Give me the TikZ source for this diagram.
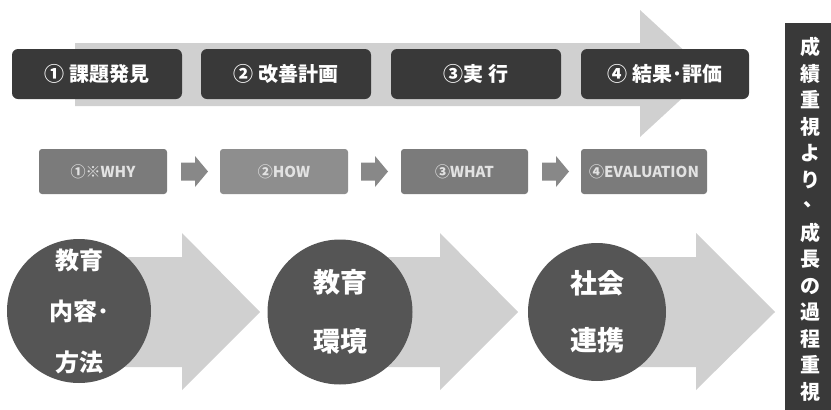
\documentclass[tikz,border=0pt]{standalone}
\usepackage{fontspec}
\setmainfont{Noto Sans CJK JP}
\definecolor{arrowgray}{HTML}{D0D0D0}
\definecolor{boxdark}{HTML}{393939}
\definecolor{midgray}{HTML}{7B7B7B}
\definecolor{midgraylt}{HTML}{8E8E8E}
\definecolor{circgray}{HTML}{555555}
\definecolor{smallarrow}{HTML}{888888}
\definecolor{lighttext}{HTML}{E2E2E2}
\begin{document}
\begin{tikzpicture}[x=1pt,y=-1pt,
  phasebox/.style={fill=boxdark, rounded corners=6pt, minimum width=170pt, minimum height=50pt, text=white, font=\bfseries\fontsize{20}{24}\selectfont, inner sep=0pt},
  qbox/.style={rounded corners=3pt, minimum height=45pt, text=lighttext, font=\bfseries\fontsize{15}{18}\selectfont, inner sep=0pt},
  circ/.style={circle, fill=circgray, text=white, inner sep=0pt, align=center},
  bigarrow/.style={fill=arrowgray},
  sarrow/.style={fill=smallarrow}
]
\useasboundingbox (0,0) rectangle (831,410);
\fill[white] (0,0) rectangle (831,410);

% top big arrow
\fill[bigarrow] (75,43) -- (640,43) -- (640,10) -- (709,73.5) -- (640,137) -- (640,106) -- (75,106) -- cycle;

% top phase boxes
\node[phasebox] (p1) at (97,74) {① 課題発見};
\node[phasebox] (p2) at (286,74) {② 改善計画};
\node[phasebox] (p3) at (476,74) {③実 行};
\node[phasebox, minimum width=168pt] (p4) at (665,74) {④ 結果･評価};

% second row
\node[qbox, fill=midgray, minimum width=128pt] (q1) at (103,171.5) {①※WHY};
\node[qbox, fill=midgraylt, minimum width=128pt] (q2) at (284,171.5) {②HOW};
\node[qbox, fill=midgray, minimum width=127pt] (q3) at (464.5,171.5) {③WHAT};
\node[qbox, fill=midgray, minimum width=126pt] (q4) at (644,171.5) {④EVALUATION};

\foreach \xa in {181,361,542}{
  \fill[sarrow] (\xa,162.5) -- (\xa+14,162.5) -- (\xa+14,156) -- (\xa+27,171.5) -- (\xa+14,187) -- (\xa+14,180.5) -- (\xa,180.5) -- cycle;
}

% bottom big arrows
\fill[bigarrow] (79,257) -- (182,257) -- (182,233) -- (260,312) -- (182,390) -- (182,367) -- (79,367) -- cycle;
\fill[bigarrow] (340,257) -- (440,257) -- (440,233) -- (518,312) -- (440,390) -- (440,367) -- (340,367) -- cycle;
\fill[bigarrow] (597,257) -- (696,257) -- (696,233) -- (775,312) -- (696,390) -- (696,367) -- (597,367) -- cycle;

% circles
\node[circ, minimum size=144pt, font=\bfseries\fontsize{24}{51}\selectfont] (c1) at (79,311) {教育\\内容･\\方法};
\node[circ, minimum size=145pt, font=\bfseries\fontsize{27}{59}\selectfont] (c2) at (340,312) {教育\\環境};
\node[circ, minimum size=138pt, font=\bfseries\fontsize{27}{57}\selectfont] (c3) at (597,312) {社会\\連携};

% right vertical box
\fill[boxdark] (785,23) rectangle (831,410);
\node[text=white, align=center, font=\bfseries\fontsize{20}{26.5}\selectfont, inner sep=0pt, anchor=north] (side) at (810,37) {成\\績\\重\\視\\よ\\り\\\raisebox{0.35em}{\hspace*{0.35em}、}\\成\\長\\の\\過\\程\\重\\視};
\end{tikzpicture}
\end{document}
